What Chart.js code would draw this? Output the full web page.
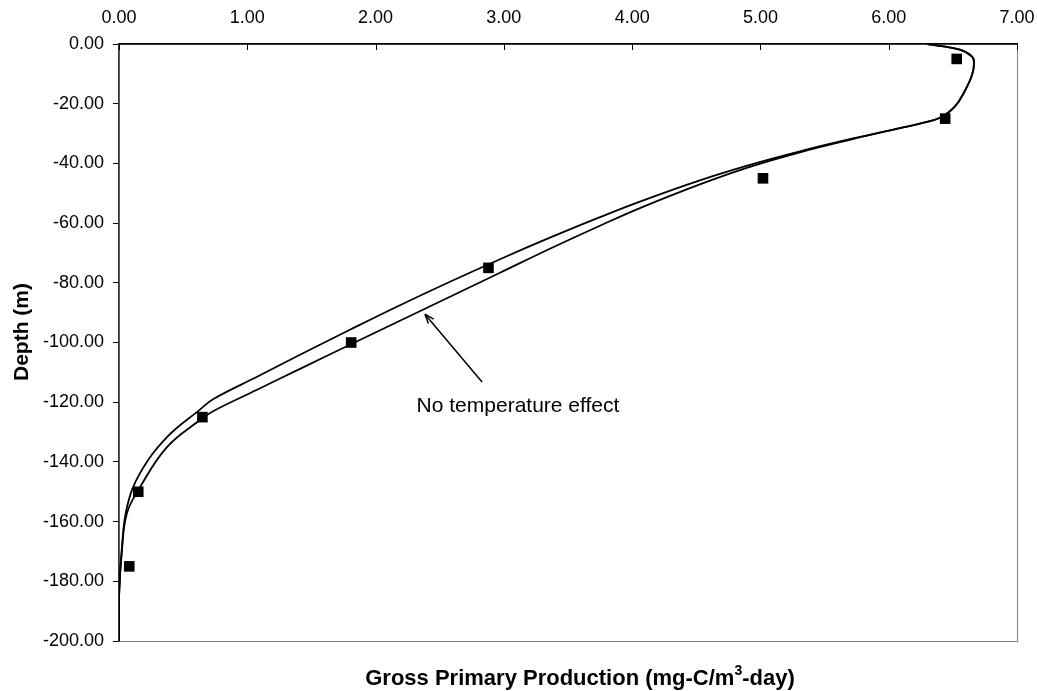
<!DOCTYPE html>
<html>
<head>
<meta charset="utf-8">
<title>Gross Primary Production vs Depth</title>
<script src="https://cdn.jsdelivr.net/npm/chart.js"></script>
<style>
    html, body { margin: 0; padding: 0; background: #fff; }
    #wrap { width: 1037px; height: 691px; }
</style>
</head>
<body>
<div id="wrap"><canvas id="gppChart"></canvas></div>
<script>
// observed values (squares)
const obsDepth = [-5, -25, -45, -75, -100, -125, -150, -175];
const obsGpp = [6.53, 6.44, 5.02, 2.88, 1.81, 0.65, 0.15, 0.08];

// model curve (upper / left one)
const modelDepth = [0, -1.9, -4.25, -6.3, -10.3, -16, -21, -24.7, -26.7, -28.2, -31.9, -35.95, -40.48, -45.67, -52.78, -58.01, -64.89, -72.1, -79.64, -87.52, -95.74, -104.12, -111.47, -118.98, -122.47, -131.69, -143.76, -155.17, -168.58, -185.35, -200];
const modelGpp = [6.30, 6.555, 6.65, 6.665, 6.65, 6.59, 6.515, 6.40, 6.243, 6.087, 5.697, 5.308, 4.918, 4.528, 4.061, 3.749, 3.359, 2.970, 2.580, 2.190, 1.800, 1.411, 1.076, 0.733, 0.631, 0.374, 0.164, 0.062, 0.023, 0, 0];

// model curve without temperature effect (lower / right one)
const noTempDepth = [0, -1.9, -4.25, -6.3, -10.3, -16, -21, -24.7, -26.7, -28.2, -32.1, -36.28, -41.15, -47.02, -54.96, -60.87, -68.58, -76.63, -84.67, -92.72, -100.77, -108.82, -115.83, -123.01, -125.99, -135.05, -148.46, -157.18, -169.59, -185.35, -200];
const noTempGpp = [6.30, 6.555, 6.65, 6.665, 6.65, 6.59, 6.515, 6.40, 6.243, 6.087, 5.697, 5.308, 4.918, 4.528, 4.061, 3.749, 3.359, 2.970, 2.580, 2.190, 1.800, 1.411, 1.076, 0.733, 0.631, 0.374, 0.164, 0.062, 0.023, 0, 0];

// axis ticks
const xTicks = [0, 1, 2, 3, 4, 5, 6, 7];
const yTicks = [0, -20, -40, -60, -80, -100, -120, -140, -160, -180, -200];

// annotation (data units)
const noteText = 'No temperature effect';
const notePos = [3.11, -123.2];
const arrowFrom = [2.83, -113.2];
const arrowTo = [2.385, -90.5];

const FONT = '"Liberation Sans", Arial, sans-serif';

function toPoints(xs, ys) {
    return xs.map((v, i) => ({ x: v, y: ys[i] }));
}

// frame, inward top ticks, arrow and texts
const overlayPlugin = {
    id: 'overlay',
    beforeDraw(chart) {
        const a = chart.chartArea;
        const ctx = chart.ctx;
        ctx.save();
        ctx.strokeStyle = '#808080';
        ctx.lineWidth = 1;
        ctx.strokeRect(a.left + 0.5, a.top + 0.5, a.right - a.left, a.bottom - a.top);
        ctx.restore();
    },
    afterDraw(chart) {
        const ctx = chart.ctx;
        const xs = chart.scales.x;
        const ys = chart.scales.y;
        const a = chart.chartArea;
        ctx.save();

        // inward tick marks on top axis
        ctx.strokeStyle = '#000';
        ctx.lineWidth = 1;
        xTicks.forEach(t => {
            const px = Math.round(xs.getPixelForValue(t)) + 0.5;
            ctx.beginPath();
            ctx.moveTo(px, a.top);
            ctx.lineTo(px, a.top + 6);
            ctx.stroke();
        });

        // arrow
        const x1 = xs.getPixelForValue(arrowFrom[0]);
        const y1 = ys.getPixelForValue(arrowFrom[1]);
        const x2 = xs.getPixelForValue(arrowTo[0]);
        const y2 = ys.getPixelForValue(arrowTo[1]);
        ctx.lineWidth = 1.5;
        ctx.beginPath();
        ctx.moveTo(x1, y1);
        ctx.lineTo(x2, y2);
        ctx.stroke();
        const ang = Math.atan2(y2 - y1, x2 - x1);
        ctx.beginPath();
        ctx.moveTo(x2, y2);
        ctx.lineTo(x2 - 10 * Math.cos(ang - 0.35), y2 - 10 * Math.sin(ang - 0.35));
        ctx.moveTo(x2, y2);
        ctx.lineTo(x2 - 10 * Math.cos(ang + 0.35), y2 - 10 * Math.sin(ang + 0.35));
        ctx.stroke();

        // label
        ctx.fillStyle = '#000';
        ctx.font = '21px ' + FONT;
        ctx.textAlign = 'center';
        ctx.textBaseline = 'alphabetic';
        ctx.fillText(noteText, xs.getPixelForValue(notePos[0]), ys.getPixelForValue(notePos[1]));

        // x title with a raised "3"
        const main = 'Gross Primary Production (mg-C/m';
        const tail = '-day)';
        const big = 'bold 22px ' + FONT;
        const small = 'bold 14px ' + FONT;
        ctx.font = big;
        const w1 = ctx.measureText(main).width;
        const w3 = ctx.measureText(tail).width;
        ctx.font = small;
        const w2 = ctx.measureText('3').width;
        let tx = 580 - (w1 + w2 + w3) / 2;
        ctx.textAlign = 'left';
        ctx.font = big;
        ctx.fillText(main, tx, 685);
        tx += w1;
        ctx.font = small;
        ctx.fillText('3', tx, 675);
        tx += w2;
        ctx.font = big;
        ctx.fillText(tail, tx, 685);

        // y title
        ctx.textAlign = 'center';
        ctx.font = 'bold 21px ' + FONT;
        ctx.translate(22, 332);
        ctx.rotate(-Math.PI / 2);
        ctx.textBaseline = 'middle';
        ctx.fillText('Depth (m)', 0, 0);
        ctx.restore();
    }
};

const curveStyle = {
    showLine: true,
    borderColor: '#000',
    borderWidth: 1.8,
    pointRadius: 0,
    tension: 0.4,
    fill: false
};

new Chart(document.getElementById('gppChart'), {
    type: 'scatter',
    data: {
        datasets: [
            Object.assign({ label: 'Model', data: toPoints(modelGpp, modelDepth) }, curveStyle),
            Object.assign({ label: 'No temperature effect', data: toPoints(noTempGpp, noTempDepth) }, curveStyle),
            {
                label: 'Observed',
                data: toPoints(obsGpp, obsDepth),
                showLine: false,
                pointStyle: 'rect',
                pointRadius: 7.5,
                backgroundColor: '#000',
                borderColor: '#000',
                borderWidth: 0
            }
        ]
    },
    options: {
        responsive: true,
        maintainAspectRatio: false,
        animation: false,
        layout: { padding: { top: 0, left: 0, right: 20, bottom: 50 } },
        plugins: {
            legend: { display: false },
            tooltip: { enabled: false }
        },
        scales: {
            x: {
                type: 'linear',
                position: 'top',
                min: 0,
                max: 7,
                afterBuildTicks: s => { s.ticks = xTicks.map(v => ({ value: v })); },
                ticks: {
                    callback: v => v.toFixed(2),
                    color: '#000',
                    font: { family: FONT, size: 18 },
                    padding: 15,
                    maxRotation: 0
                },
                grid: { drawOnChartArea: false, drawTicks: false },
                border: { color: '#000', width: 1.5 },
                afterFit: s => { s.height = 44; s.paddingLeft = 0; s.paddingRight = 0; }
            },
            y: {
                type: 'linear',
                position: 'left',
                min: -200,
                max: 0,
                afterBuildTicks: s => { s.ticks = yTicks.map(v => ({ value: v })); },
                ticks: {
                    callback: v => v.toFixed(2),
                    color: '#000',
                    font: { family: FONT, size: 18 },
                    padding: 9
                },
                grid: { drawOnChartArea: false, drawTicks: true, tickLength: 6, color: '#000' },
                border: { color: '#333', width: 1.5 },
                afterFit: s => { s.width = 119; }
            }
        }
    },
    plugins: [overlayPlugin]
});
</script>
</body>
</html>
